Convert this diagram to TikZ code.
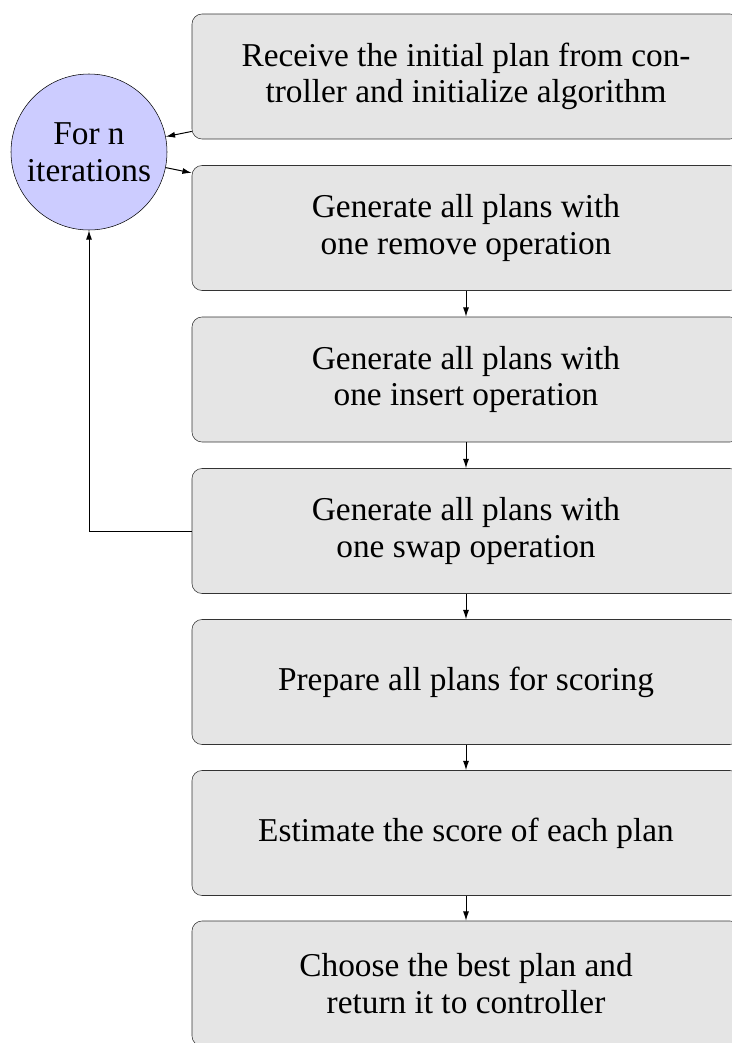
\documentclass[tikz,border=0pt]{standalone}
\usepackage{fontspec}
\setmainfont{Liberation Serif}
\usetikzlibrary{arrows.meta}
\begin{document}
\begin{tikzpicture}[x=0.75pt,y=-0.75pt,
  stepbox/.style={draw=black!80,fill=black!10,rounded corners=7.5pt,minimum width=411pt,minimum height=93.75pt,align=center,inner sep=0pt,font=\fontsize{25}{27.5}\selectfont},
  loopnode/.style={draw=black,fill=blue!20,circle,minimum size=117pt,inner sep=0pt,align=center,font=\fontsize{25}{27.5}\selectfont},
  conn/.style={-{Latex[length=7pt,width=4.5pt]},line width=0.75pt}]
\useasboundingbox (0,0) rectangle (732,1043);
\clip (0,0) rectangle (732,1043);
\node[stepbox] (b1) at (466,76.5) {Receive the initial plan from con-\\troller and initialize algorithm};
\node[stepbox] (b2) at (466,228) {Generate all plans with\\one remove operation};
\node[stepbox] (b3) at (466,379.5) {Generate all plans with\\one insert operation};
\node[stepbox] (b4) at (466,531) {Generate all plans with\\one swap operation};
\node[stepbox] (b5) at (466,682) {Prepare all plans for scoring};
\node[stepbox] (b6) at (466,833) {Estimate the score of each plan};
\node[stepbox] (b7) at (466,983.5) {Choose the best plan and\\return it to controller};
\node[loopnode] (c) at (89,152) {For n\\iterations};
\draw[conn] (b1) -- (c);
\draw[conn] (c) -- (b2);
\draw[conn] (b2) -- (b3);
\draw[conn] (b3) -- (b4);
\draw[conn] (b4) -- (b5);
\draw[conn] (b5) -- (b6);
\draw[conn] (b6) -- (b7);
\draw[conn] (b4.west) -| (c.south);
\end{tikzpicture}
\end{document}
